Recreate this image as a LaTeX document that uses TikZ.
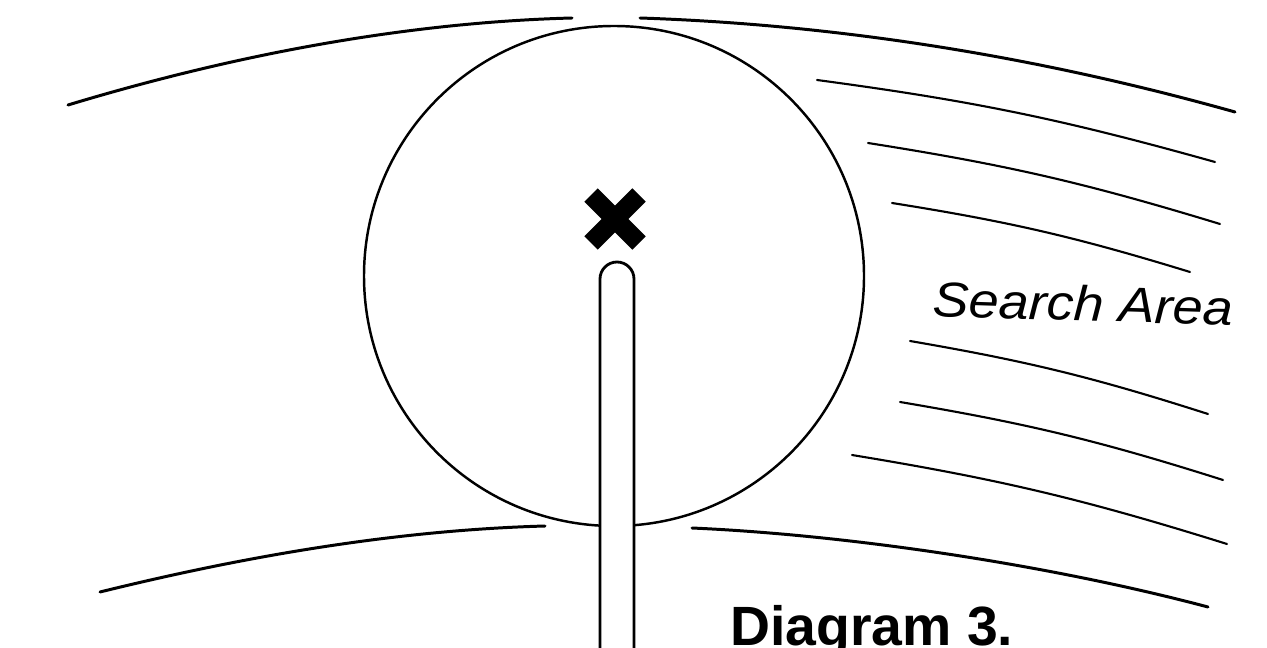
\documentclass[tikz,border=0pt]{standalone}
\usepackage{fontspec}
\newfontfamily\labelfont{Liberation Sans}
\usetikzlibrary{positioning}

\begin{document}
\begin{tikzpicture}[
  x=0.02cm, y=-0.02cm,
  edge/.style={draw=black, line width=1.7pt, line cap=round},
  hatch/.style={draw=black, line width=1.2pt, line cap=round},
  ring/.style={draw=black, line width=1.4pt},
  probe/.style={draw=black, line width=1.6pt, fill=white},
  crossarm/.style={draw=black, line width=0.38cm, line cap=butt},
  areatext/.style={font=\labelfont\itshape\fontsize{28}{30}\selectfont,
    inner sep=0pt, anchor=base west, xscale=1.1, rotate=-2},
  titletext/.style={font=\labelfont\bfseries\fontsize{31.5}{33}\selectfont,
    inner sep=0pt, anchor=base west}
]
\useasboundingbox (0,0) rectangle (1267,648);
% band edges
\draw[edge] (68,105) .. controls (250,50) and (420,22) .. (572,18);
\draw[edge] (640,18) .. controls (850,25) and (1050,60) .. (1235,112);
\draw[edge] (100,592) .. controls (250,555) and (400,530) .. (545,526);
\draw[edge] (692,528) .. controls (850,535) and (1050,565) .. (1208,607);
% hatching
\draw[hatch] (817,80) to[bend left=4] (1215,162);
\draw[hatch] (868,143) to[bend left=4] (1220,224);
\draw[hatch] (892,203) to[bend left=4] (1190,272);
\draw[hatch] (910,341) to[bend left=4] (1208,414);
\draw[hatch] (900,402) to[bend left=4] (1223,480);
\draw[hatch] (852,455) to[bend left=4] (1227,544);
% circle, probe and target
\coordinate (centre) at (614,276);
\draw[ring] (centre) circle[radius=250];
\draw[probe] (600,660) -- (600,279) arc[start angle=180, end angle=0, radius=0.34cm] -- (634,660);
\coordinate (target) at (615,219);
\draw[crossarm] (591,195) -- (639,243);
\draw[crossarm] (591,243) -- (639,195);
% labels
\node[areatext] (area) at (932,316) {Search Area};
\node[titletext] (title) at (730,645) {Diagram 3.};
\end{tikzpicture}
\end{document}
